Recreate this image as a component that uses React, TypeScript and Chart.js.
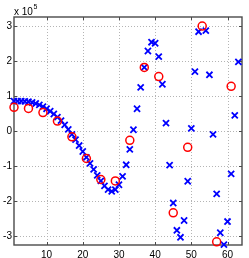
import React, { useEffect, useRef } from "react";
import { Chart, registerables } from "chart.js";

Chart.register(...registerables);

// Blue series (sampled at every integer index)
const BLUE_X = [
  1, 2, 3, 4, 5, 6, 7, 8, 9, 10, 11, 12, 13, 14, 15, 16,
  17, 18, 19, 20, 21, 22, 23, 24, 25, 26, 27, 28, 29, 30, 31, 32,
  33, 34, 35, 36, 37, 38, 39, 40, 41, 42, 43, 44, 45, 46, 47, 48,
  49, 50, 51, 52, 53, 54, 55, 56, 57, 58, 59, 60, 61, 62, 63, 64,
];
const BLUE_Y = [
  0.86, 0.86, 0.86, 0.85, 0.84, 0.82, 0.79, 0.75, 0.7, 0.64, 0.57, 0.49, 0.4, 0.3, 0.18, 0.05,
  -0.09, -0.24, -0.41, -0.58, -0.75, -0.92, -1.09, -1.26, -1.42, -1.56, -1.67, -1.72, -1.67, -1.53, -1.29, -0.96,
  -0.52, 0.04, 0.64, 1.25, 1.82, 2.29, 2.54, 2.51, 2.13, 1.34, 0.23, -0.97, -2.05, -2.83, -3.03, -2.55,
  -1.43, 0.08, 1.7, 2.84, 3.4, 2.87, 1.61, -0.09, -1.79, -2.9, -3.24, -2.58, -1.22, 0.45, 1.98, 3.5,
];

// Red series (every 4th index)
const RED_X = [1, 5, 9, 13, 17, 21, 25, 29, 33, 37, 41, 45, 49, 53, 57, 61];
const RED_Y = [0.68, 0.65, 0.53, 0.29, -0.16, -0.78, -1.38, -1.42, -0.26, 1.82, 1.56, -2.33, -0.46, 3.0, -3.16, 1.28];

const X_TICKS = [10, 20, 30, 40, 50, 60];
const Y_TICKS = [-3, -2, -1, 0, 1, 2, 3];
const X_RANGE = [1, 64];
const Y_RANGE = [-3.25, 3.26];
const EXP_BASE = "x 10";
const EXP_POWER = "5";

const FONT = '"Liberation Sans", Arial, sans-serif';

const matlabAxes = {
  id: "matlabAxes",
  beforeDatasetsDraw(chart: any) {
    const { ctx, chartArea, scales } = chart;
    const { left, right, top, bottom } = chartArea;
    const xs = scales.x;
    const ys = scales.y;
    ctx.save();
    // dotted grid
    ctx.strokeStyle = "#b4b4b4";
    ctx.lineWidth = 1;
    ctx.setLineDash([1, 2]);
    X_TICKS.forEach((v) => {
      const px = Math.round(xs.getPixelForValue(v)) + 0.5;
      ctx.beginPath();
      ctx.moveTo(px, top);
      ctx.lineTo(px, bottom);
      ctx.stroke();
    });
    Y_TICKS.forEach((v) => {
      const py = Math.round(ys.getPixelForValue(v)) + 0.5;
      ctx.beginPath();
      ctx.moveTo(left, py);
      ctx.lineTo(right, py);
      ctx.stroke();
    });
    ctx.setLineDash([]);
    // box
    ctx.strokeStyle = "#4a4a4a";
    ctx.lineWidth = 1.4;
    ctx.strokeRect(left, top, right - left, bottom - top);
    // inward ticks
    const tl = 3;
    ctx.lineWidth = 1;
    X_TICKS.forEach((v) => {
      const px = Math.round(xs.getPixelForValue(v)) + 0.5;
      ctx.beginPath();
      ctx.moveTo(px, bottom);
      ctx.lineTo(px, bottom - tl);
      ctx.moveTo(px, top);
      ctx.lineTo(px, top + tl);
      ctx.stroke();
    });
    Y_TICKS.forEach((v) => {
      const py = Math.round(ys.getPixelForValue(v)) + 0.5;
      ctx.beginPath();
      ctx.moveTo(left, py);
      ctx.lineTo(left + tl, py);
      ctx.moveTo(right, py);
      ctx.lineTo(right - tl, py);
      ctx.stroke();
    });
    // exponent label
    ctx.fillStyle = "#000";
    ctx.textBaseline = "alphabetic";
    ctx.textAlign = "left";
    ctx.font = `10px ${FONT}`;
    ctx.fillText(EXP_BASE, left, top - 2);
    const w = ctx.measureText(EXP_BASE).width;
    ctx.font = `7px ${FONT}`;
    ctx.fillText(EXP_POWER, left + w + 0.5, top - 8);
    ctx.restore();
  },
};

export default function App() {
  const ref = useRef<HTMLCanvasElement>(null);
  useEffect(() => {
    document.body.style.margin = "0";
    const canvas = ref.current!;
    const chart = new Chart(canvas, {
      type: "scatter",
      data: {
        datasets: [
          {
            label: "blue",
            data: BLUE_X.map((x, i) => ({ x, y: BLUE_Y[i] })),
            showLine: false,
            pointStyle: "crossRot",
            pointRadius: 4.3,
            pointBorderWidth: 1.8,
            borderColor: "#0000ff",
            backgroundColor: "#0000ff",
            order: 2,
            clip: { left: 6, right: 6, top: 0, bottom: 6 },
          } as any,
          {
            label: "red",
            data: RED_X.map((x, i) => ({ x, y: RED_Y[i] })),
            showLine: false,
            pointStyle: "circle",
            pointRadius: 4,
            pointBorderWidth: 1.5,
            borderColor: "#ff0000",
            backgroundColor: "rgba(0,0,0,0)",
            order: 1,
            clip: { left: 7, right: 7, top: 7, bottom: 7 },
          } as any,
        ],
      },
      options: {
        responsive: false,
        animation: false,
        devicePixelRatio: 1,
        layout: { padding: { top: 17, right: 7, left: 0, bottom: 0 } },
        plugins: { legend: { display: false }, tooltip: { enabled: false } },
        scales: {
          x: {
            type: "linear",
            min: X_RANGE[0],
            max: X_RANGE[1],
            grid: { display: false, drawTicks: false },
            border: { display: false },
            afterBuildTicks: (s: any) => {
              s.ticks = X_TICKS.map((v) => ({ value: v }));
            },
            afterFit: (s: any) => {
              s.height = 13;
            },
            ticks: {
              font: { family: FONT, size: 10 },
              color: "#000",
              padding: 4,
              maxRotation: 0,
              autoSkip: false,
              callback: (v: any) => String(v),
            },
          },
          y: {
            type: "linear",
            min: Y_RANGE[0],
            max: Y_RANGE[1],
            grid: { display: false, drawTicks: false },
            border: { display: false },
            afterBuildTicks: (s: any) => {
              s.ticks = Y_TICKS.map((v) => ({ value: v }));
            },
            afterFit: (s: any) => {
              s.width = 14;
            },
            ticks: {
              font: { family: FONT, size: 10 },
              color: "#000",
              padding: 2,
              autoSkip: false,
              callback: (v: any) => String(v),
            },
          },
        },
      },
      plugins: [matlabAxes],
    });
    return () => chart.destroy();
  }, []);
  return (
    <canvas
      ref={ref}
      width={249}
      height={258}
      style={{ display: "block", width: 249, height: 258 }}
    />
  );
}
